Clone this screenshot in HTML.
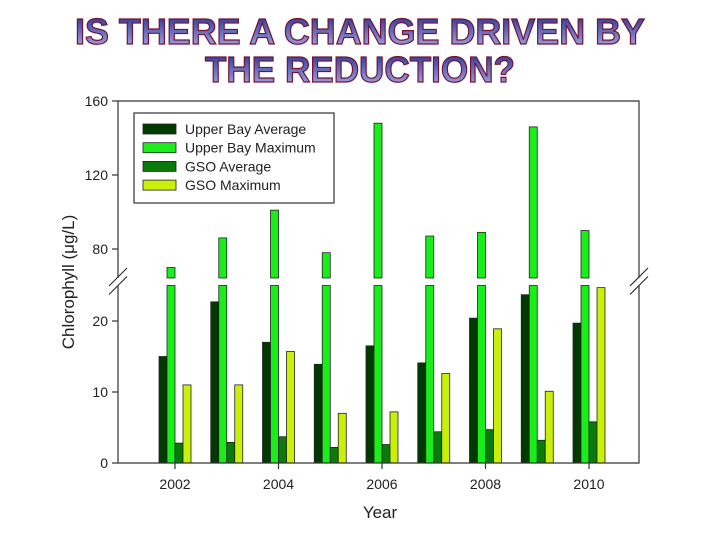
<!DOCTYPE html>
<html><head><meta charset="utf-8"><style>
body{margin:0;background:#fff;}
svg{display:block;font-family:"Liberation Sans",Arial,sans-serif;}
</style></head><body>
<svg id="chart" width="720" height="540" viewBox="0 0 720 540" xmlns="http://www.w3.org/2000/svg">
<defs>
<linearGradient id="tg" x1="0" y1="0" x2="0" y2="1">
<stop offset="0" stop-color="#1a2a8c"/><stop offset="1" stop-color="#b0b4ee"/>
</linearGradient>
</defs>
<g font-family="'Liberation Sans',Arial,sans-serif" font-weight="bold" font-size="36" text-anchor="middle" fill="url(#tg)" stroke="#7a1030" stroke-width="1.2">
<text x="360" y="44" textLength="570" lengthAdjust="spacingAndGlyphs">IS THERE A CHANGE DRIVEN BY</text>
<text x="360" y="82" textLength="310" lengthAdjust="spacingAndGlyphs">THE REDUCTION?</text>
</g>
<g id="plot"></g>
</svg>
<script>
const years = [2002,2003,2004,2005,2006,2007,2008,2009,2010];
const ubAvg = [15,22.7,17,13.9,16.5,14.1,20.4,23.7,19.7];
const ubMax = [70,86,101,78,148,87,89,146,90];
const gsoAvg = [2.8,2.9,3.7,2.2,2.6,4.4,4.7,3.2,5.8];
const gsoMax = [11,11,15.7,7,7.2,12.6,18.9,10.1,24.7];
const lowerTicks = [0,10,20];
const upperTicks = [80,120,160];
const xTicks = [2002,2004,2006,2008,2010];
const seriesNames = ["Upper Bay Average","Upper Bay Maximum","GSO Average","GSO Maximum"];

const NS="http://www.w3.org/2000/svg";
const g=document.getElementById('plot');
const L=118,R=639,T=101,B=463;
const lowTop=285.5, upBot=278;
function xs(yr){return 175+(yr-2002)*51.75;}
function yLow(v){return 463-v*7.1;}
function yUp(v){return 249-(v-80)*1.85;}
function yAny(v){return v<=25?yLow(v):(v>=65?yUp(v):null);}
function el(t,a,p){const e=document.createElementNS(NS,t);for(const k in a)e.setAttribute(k,a[k]);(p||g).appendChild(e);return e;}

const colors=["#003a00","#1aee1a","#0a7a0a","#c8f00a"];
const data=[ubAvg,ubMax,gsoAvg,gsoMax];
const bw=8;
data.forEach((arr,s)=>{
  arr.forEach((v,i)=>{
    const x=xs(years[i])-2*bw+s*bw;
    if(v<=25){
      const r=el('rect',{x:x,y:yLow(v),width:bw,height:B-yLow(v),fill:colors[s],stroke:"#222","stroke-width":0.8});
      
      
    } else {
      const r1=el('rect',{x:x,y:lowTop,width:bw,height:B-lowTop,fill:colors[s],stroke:"#222","stroke-width":0.8});
      
      
      const yt=yUp(v);
      const r2=el('rect',{x:x,y:yt,width:bw,height:upBot-yt,fill:colors[s],stroke:"#222","stroke-width":0.8});
      
      
    }
  });
});
// frame
const ax=el('path',{d:`M${L},${upBot} L${L},${T} L${R},${T} L${R},${upBot} M${L},${lowTop} L${L},${B} L${R},${B} L${R},${lowTop}`,fill:"none",stroke:"#333","stroke-width":1.2});


// break marks
[L,R].forEach((x,k)=>{
  const b=el('path',{d:`M${x-9},${upBot+8} L${x+9},${upBot-10} M${x-9},${lowTop+9} L${x+9},${lowTop-9}`,stroke:"#333","stroke-width":1.2,fill:"none"});
  
  
});
// y ticks
lowerTicks.concat(upperTicks).forEach(v=>{
  const y=yAny(v);
  el('line',{x1:L-6,x2:L,y1:y,y2:y,stroke:"#333","stroke-width":1.2});
  const t=el('text',{x:L-10,y:y+5,"text-anchor":"end","font-size":14,fill:"#222"});
  t.textContent=v;
  
  
});
xTicks.forEach(v=>{
  const x=xs(v);
  el('line',{x1:x,x2:x,y1:B,y2:B+6,stroke:"#333","stroke-width":1.2});
  const t=el('text',{x:x,y:B+26,"text-anchor":"middle","font-size":14,fill:"#222"});
  t.textContent=v;
  
  
});
const xt=el('text',{x:380,y:518,"text-anchor":"middle","font-size":17,fill:"#222"});
xt.textContent="Year";


const yt=el('text',{x:0,y:0,"text-anchor":"middle","font-size":17,fill:"#222",transform:"translate(74,282) rotate(-90)"});
yt.textContent="Chlorophyll (\u03bcg/L)";


// legend
const lg=el('g',{});


el('rect',{x:134,y:113,width:200,height:90,fill:"#fff",stroke:"#333","stroke-width":1.2},lg);
seriesNames.forEach((n,i)=>{
  const y=124+i*18.7;
  const e=el('g',{},lg);
  
  
  el('rect',{x:143,y:y,width:33,height:10,fill:colors[i],stroke:"#222","stroke-width":0.8},e);
  const t=el('text',{x:185,y:y+10,"font-size":14,fill:"#222"},e);
  t.textContent=n;
});
</script>
</body></html>
